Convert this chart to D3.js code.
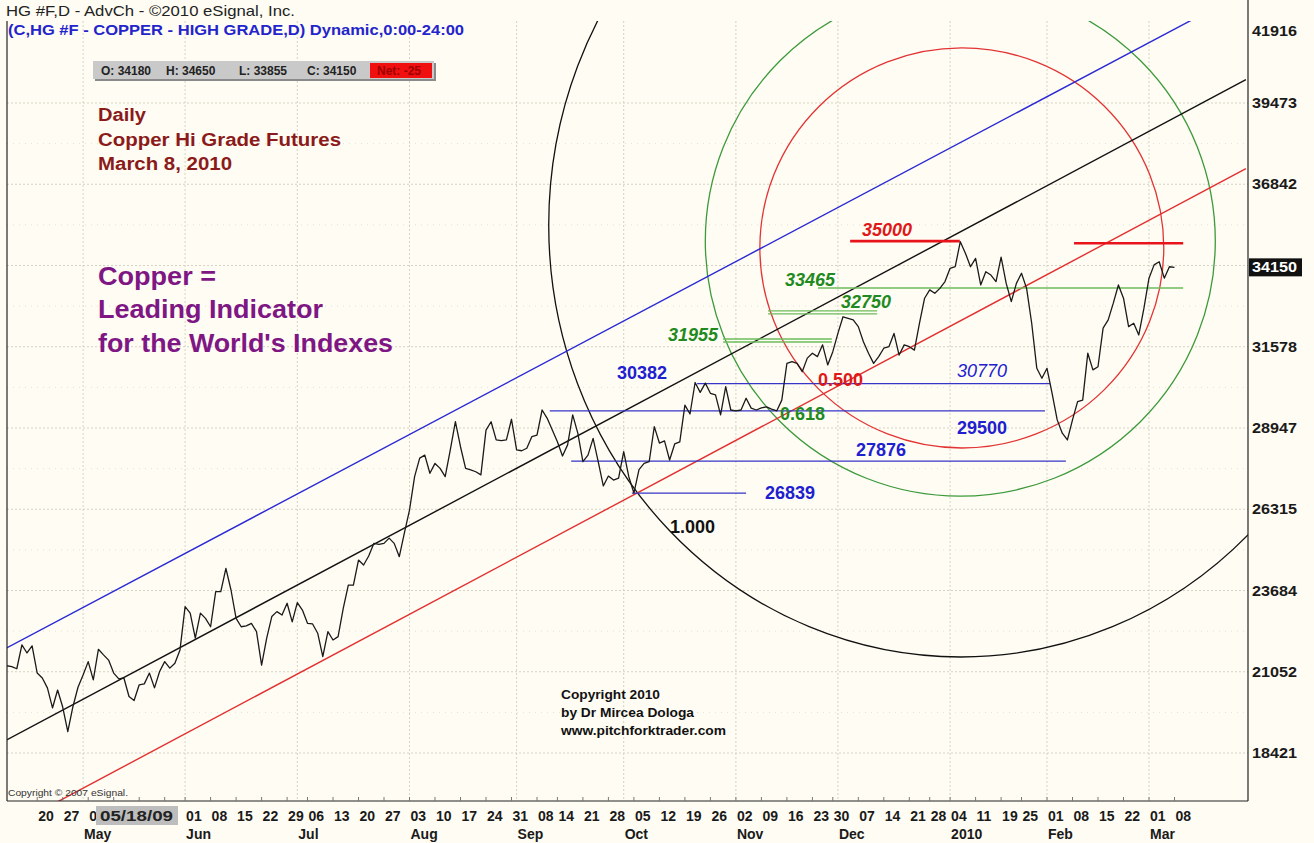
<!DOCTYPE html>
<html>
<head>
<meta charset="utf-8">
<script src="https://cdn.jsdelivr.net/npm/d3@7"></script>
<style>
  body { margin: 0; background: #fffcf3; }
  svg { display: block; font-family: "Liberation Sans", Arial, sans-serif; }
</style>
</head>
<body>
<div id="chart"></div>
<script>
// daily closes, HG #F, 9 Apr 2009 .. 8 Mar 2010 (one per trading day)
const closes = [
  21250, 21220, 21150, 21920, 21660, 21890, 21010, 20850, 20530, 19880,
  20460, 19910, 19110, 19920, 20550, 20950, 21380, 20790, 21780, 21600,
  21430, 21010, 20820, 20850, 20250, 20120, 20630, 20660, 21010, 20530,
  21060, 21380, 21170, 21330, 21760, 23160, 22950, 22140, 22950, 22780,
  22510, 23650, 23650, 24400, 23700, 22780, 22510, 22540, 22620, 22350,
  21270, 22140, 22840, 23000, 22890, 23270, 22670, 23290, 23050, 22620,
  22600, 22300, 21540, 22350, 22080, 22190, 23100, 23860, 23860, 24670,
  24510, 24800, 25210, 25180, 25210, 25380, 25210, 24780, 25550, 26290,
  27370, 27970, 28070, 27480, 27800, 27640, 27370, 28240, 29150, 28340,
  27640, 27590, 27530, 27430, 28880, 29150, 28560, 28540, 28560, 29230,
  28240, 28210, 28290, 28670, 28720, 29530, 29260, 28880, 28500, 28040,
  28400, 29370, 28780, 27860, 28070, 28610, 27860, 27070, 27390, 27260,
  27320, 28180, 27370, 26840, 27600, 27800, 27860, 28990, 28460, 28530,
  27910, 28430, 28500, 29690, 29400, 30420, 30100, 30400, 30070, 30020,
  29370, 30290, 29530, 29500, 29530, 29910, 29590, 29530, 29600, 29630,
  29560, 29500, 29850, 31040, 31100, 31040, 30770, 31210, 31370, 31260,
  31640, 30990, 31420, 32010, 32550, 32500, 32450, 32230, 31740, 31370,
  31040, 31260, 31530, 31580, 32010, 31310, 31640, 31580, 31470, 32340,
  33150, 33420, 33310, 33470, 33690, 34120, 34170, 34980, 34610, 34170,
  34440, 33580, 34010, 33900, 33690, 34480, 33630, 33040, 33630, 33960,
  33470, 32340, 30880, 30560, 30880, 30070, 29210, 28780, 28560, 29210,
  29800, 29850, 31370, 30830, 30930, 32180, 32450, 32990, 33580, 33150,
  32230, 32340, 31960, 32820, 33800, 34230, 34330, 33800, 34170, 34150
];
const startDate = new Date(2009, 3, 9);
const endDate = new Date(2010, 2, 9);
const holidays = ['2009-04-10', '2009-05-25', '2009-07-03', '2009-09-07',
  '2009-11-26', '2009-12-25', '2010-01-01', '2010-01-18'];

const priceTicks = [39473, 36842, 34210, 31578, 28947, 26315, 23684, 21052, 18421];
const topPrice = 41916;
const lastClose = 34150;
const ohlc = [['O', 34180], ['H', 34650], ['L', 33855], ['C', 34150]];
const netChange = -25;
const cursorDate = '05/18/09';

// channel: price at bar 0 and at bar 243
const channelBars = [0, 243];
const upperLine = [21822, 43090];
const medianLine = [18843, 40227];
const lowerLine = [15962, 37346];

// fib circles around the January high: [centre bar, centre price, radius in bars, radius in price]
const fibCircles = [
  [187.1, 35520, 80.8, 13990],  // 1.000
  [187.0, 35000, 50.0, 8260],   // 0.618
  [187.3, 34780, 39.6, 6480]    // 0.500
];

// horizontal levels [price, fromBar, toBar]
const blueLevels = [[30382, 135.4, 204.6], [29500, 106.5, 203.6], [27876, 110.7, 207.7], [26839, 122.6, 145]];
const greenLevels = [[31830, 140.5, 161.8], [32740, 149.3, 170.7]];
const greenSingle = [[33480, 159.1, 230.7]];
const redLevels = [[35000, 165.4, 186.9], [34930, 209.3, 230.7]];

const W = 1314, H = 843;
const plot = { left: 7, right: 1248, top: 21, bottom: 801 };

const fmt = d3.timeFormat('%Y-%m-%d');
const days = d3.timeDay.range(startDate, endDate)
  .filter(d => d.getDay() > 0 && d.getDay() < 6 && !holidays.includes(fmt(d)));

const x = d3.scaleLinear().domain([0, closes.length - 1]).range([6.6, 1174.5]);
const y = d3.scaleLinear().domain([18421, 39473]).range([753, 103]);

const svg = d3.select('#chart').append('svg').attr('width', W).attr('height', H);
svg.append('rect').attr('width', W).attr('height', H).attr('fill', '#fffcf3');

// cursor date box on the time axis
const box = { x0: 96, x1: 178 };

svg.append('defs').append('clipPath').attr('id', 'plotClip')
  .append('rect')
  .attr('x', plot.left).attr('y', plot.top)
  .attr('width', plot.right - plot.left).attr('height', plot.bottom - plot.top);

const weekStarts = [];
const monthStarts = [];
days.forEach((d, i) => {
  if (i === 0) return;
  const p = days[i - 1];
  if (+d3.timeMonday.floor(d) !== +d3.timeMonday.floor(p) && i >= 6) weekStarts.push(i);
  if (d.getMonth() !== p.getMonth()) monthStarts.push(i);
});

// grid
const grid = svg.append('g').attr('clip-path', 'url(#plotClip)');
priceTicks.forEach(v => {
  grid.append('line')
    .attr('x1', plot.left).attr('x2', plot.right)
    .attr('y1', y(v)).attr('y2', y(v))
    .style('stroke', '#d6d2c4').style('stroke-width', 1)
    .style('stroke-dasharray', '2,2');
});
d3.pairs(priceTicks).forEach(([a, b]) => {
  const v = (a + b) / 2;
  grid.append('line')
    .attr('x1', plot.left).attr('x2', plot.right)
    .attr('y1', y(v)).attr('y2', y(v))
    .style('stroke', '#e4e0d4').style('stroke-width', 1)
    .style('stroke-dasharray', '1,5');
});
monthStarts.forEach(i => {
  grid.append('line')
    .attr('x1', x(i)).attr('x2', x(i))
    .attr('y1', plot.top).attr('y2', plot.bottom)
    .style('stroke', '#d6d2c4').style('stroke-width', 1)
    .style('stroke-dasharray', '2,2');
});

const marks = svg.append('g').attr('clip-path', 'url(#plotClip)');

// fib circles (drawn in bar/price space, so they come out slightly oval)
const circleColors = ['#111111', '#3c9a3c', '#e23434'];
fibCircles.forEach(([b, p, rb, rp], i) => {
  marks.append('ellipse')
    .attr('cx', x(b)).attr('cy', y(p))
    .attr('rx', x(b + rb) - x(b))
    .attr('ry', y(p - rp) - y(p))
    .style('fill', 'none')
    .style('stroke', circleColors[i])
    .style('stroke-width', 1.3);
});

// channel lines
[[upperLine, '#2a2ad4'], [medianLine, '#111111'], [lowerLine, '#e23030']].forEach(([p, c]) => {
  marks.append('line')
    .attr('x1', x(channelBars[0])).attr('y1', y(p[0]))
    .attr('x2', x(channelBars[1])).attr('y2', y(p[1]))
    .style('stroke', c).style('stroke-width', 1.4);
});

// levels
blueLevels.forEach(([v, a, b]) => {
  marks.append('line')
    .attr('x1', x(a)).attr('x2', x(b)).attr('y1', y(v)).attr('y2', y(v))
    .style('stroke', '#3535c8').style('stroke-width', 1.3);
});
greenLevels.forEach(([v, a, b]) => {
  [0, 3].forEach(off => {
    marks.append('line')
      .attr('x1', x(a)).attr('x2', x(b)).attr('y1', y(v) + off).attr('y2', y(v) + off)
      .style('stroke', '#6cbc5c').style('stroke-width', 1.3);
  });
});
greenSingle.forEach(([v, a, b]) => {
  marks.append('line')
    .attr('x1', x(a)).attr('x2', x(b)).attr('y1', y(v)).attr('y2', y(v))
    .style('stroke', '#6cbc5c').style('stroke-width', 1.5);
});
redLevels.forEach(([v, a, b]) => {
  marks.append('line')
    .attr('x1', x(a)).attr('x2', x(b)).attr('y1', y(v)).attr('y2', y(v))
    .style('stroke', '#e8141c').style('stroke-width', 2.6);
});

// price line
marks.append('path')
  .datum(closes)
  .attr('d', d3.line().x((d, i) => x(i)).y(d => y(d)))
  .style('fill', 'none')
  .style('stroke', '#1a1a1a')
  .style('stroke-width', 1.3)
  .style('stroke-linejoin', 'round');

// frame
svg.append('line').attr('x1', plot.left).attr('x2', plot.left).attr('y1', plot.top).attr('y2', plot.bottom)
  .style('stroke', '#222').style('stroke-width', 1.2);
svg.append('line').attr('x1', plot.left).attr('x2', plot.right).attr('y1', plot.bottom).attr('y2', plot.bottom)
  .style('stroke', '#222').style('stroke-width', 1.2);
svg.append('line').attr('x1', plot.right).attr('x2', plot.right).attr('y1', 0).attr('y2', plot.bottom)
  .style('stroke', '#222').style('stroke-width', 1.2);

// text helper, optionally forced to a measured width
function addText(t, px, py, o) {
  const el = svg.append('text')
    .attr('x', px).attr('y', py)
    .style('font-size', o.size + 'px')
    .style('font-weight', o.weight || 'bold')
    .style('font-style', o.italic ? 'italic' : 'normal')
    .style('fill', o.color || '#111')
    .attr('text-anchor', o.anchor || 'start')
    .text(t);
  if (o.w) el.attr('textLength', o.w).attr('lengthAdjust', 'spacingAndGlyphs');
  return el;
}

// right axis
priceTicks.filter(v => v !== 34210).forEach(v => {
  addText(v, 1252, y(v) + 5, { size: 15, color: '#1a1a1a', w: 45 });
});
addText(topPrice, 1252, 36, { size: 15, color: '#1a1a1a', w: 45 });
svg.append('rect').attr('x', 1249).attr('y', y(lastClose) - 9).attr('width', 53).attr('height', 18)
  .attr('fill', '#111');
addText(lastClose, 1252, y(lastClose) + 5, { size: 15, color: '#ffffff', w: 45 });

// bottom axis; the cursor box hides the labels under it and cuts the one at its edge
weekStarts.forEach(i => {
  svg.append('line').attr('x1', x(i)).attr('x2', x(i)).attr('y1', plot.bottom - 4).attr('y2', plot.bottom)
    .style('stroke', '#777').style('stroke-width', 1);
  const lx = x(i) + 1;
  if (lx > box.x0 && lx < box.x1) return;
  let lab = d3.timeFormat('%d')(days[i]);
  if (lx < box.x0 && lx + 16 > box.x0) lab = lab.slice(0, 1);
  addText(lab, lx, 821, { size: 14, color: '#1a1a1a' });
});
monthStarts.forEach(i => {
  const d = days[i];
  const lab = d.getMonth() === 0 ? d3.timeFormat('%Y')(d) : d3.timeFormat('%b')(d);
  addText(lab, x(i) + 1, 839, { size: 14, color: '#1a1a1a' });
});
svg.append('rect').attr('x', box.x0).attr('y', 806).attr('width', box.x1 - box.x0).attr('height', 19).attr('fill', '#bdbdbd');
addText(cursorDate, 100, 821, { size: 14, color: '#222', w: 73 });

// header
addText('HG #F,D - AdvCh - \u00a92010 eSignal, Inc.', 6, 16, { size: 15, weight: 'normal', color: '#222', w: 289 });
addText('(C,HG #F - COPPER - HIGH GRADE,D) Dynamic,0:00-24:00', 8, 35, { size: 14, color: '#2424cc', w: 456 });

// OHLC box
svg.append('rect').attr('x', 95).attr('y', 63).attr('width', 341).attr('height', 18).attr('fill', '#8a8a8a');
svg.append('rect').attr('x', 93).attr('y', 61).attr('width', 341).attr('height', 18).attr('fill', '#c9c9c9');
const ohlcX = [101, 166, 239, 307];
ohlc.forEach(([k, v], i) => addText(k + ': ' + v, ohlcX[i], 75, { size: 12, color: '#222' }));
svg.append('rect').attr('x', 370).attr('y', 63).attr('width', 62).attr('height', 15).attr('fill', '#f01010');
addText('Net: ' + netChange, 377, 75, { size: 12, color: '#a00000' });

// notes
addText('Daily', 98, 121, { size: 18, color: '#8b1a1a', w: 48 });
addText('Copper Hi Grade Futures', 98, 146, { size: 18, color: '#8b1a1a', w: 243 });
addText('March 8, 2010', 98, 170, { size: 18, color: '#8b1a1a', w: 134 });
addText('Copper =', 98, 285, { size: 25, color: '#7e1684', w: 118 });
addText('Leading Indicator', 98, 318, { size: 25, color: '#7e1684', w: 225 });
addText("for the World's Indexes", 98, 352, { size: 25, color: '#7e1684', w: 295 });
addText('Copyright 2010', 561, 699, { size: 12.5, color: '#111', w: 99 });
addText('by Dr Mircea Dologa', 561, 717, { size: 12.5, color: '#111', w: 133 });
addText('www.pitchforktrader.com', 561, 735, { size: 12.5, color: '#111', w: 165 });
addText('Copyright \u00a9 2007 eSignal.', 8, 796, { size: 9.5, weight: 'normal', color: '#333', w: 120 });

// level labels
const levelLabels = [
  ['35000', 862, 236, '#e01818', true],
  ['33465', 785, 286, '#1f8a1f', true],
  ['32750', 841, 308, '#1f8a1f', true],
  ['31955', 668, 341, '#1f8a1f', true],
  ['30382', 617, 379, '#2020d0', false],
  ['0.500', 818, 386, '#e01818', false],
  ['0.618', 780, 420, '#1f8a1f', false],
  ['29500', 957, 434, '#2020d0', false],
  ['27876', 856, 456, '#2020d0', false],
  ['26839', 765, 499, '#2020d0', false],
  ['1.000', 670, 533, '#111111', false]
];
levelLabels.forEach(([t, px, py, c, it]) => addText(t, px, py, { size: 18, color: c, italic: it }));
addText('30770', 957, 377, { size: 18, weight: 'normal', italic: true, color: '#2020d0' });
</script>
</body>
</html>
